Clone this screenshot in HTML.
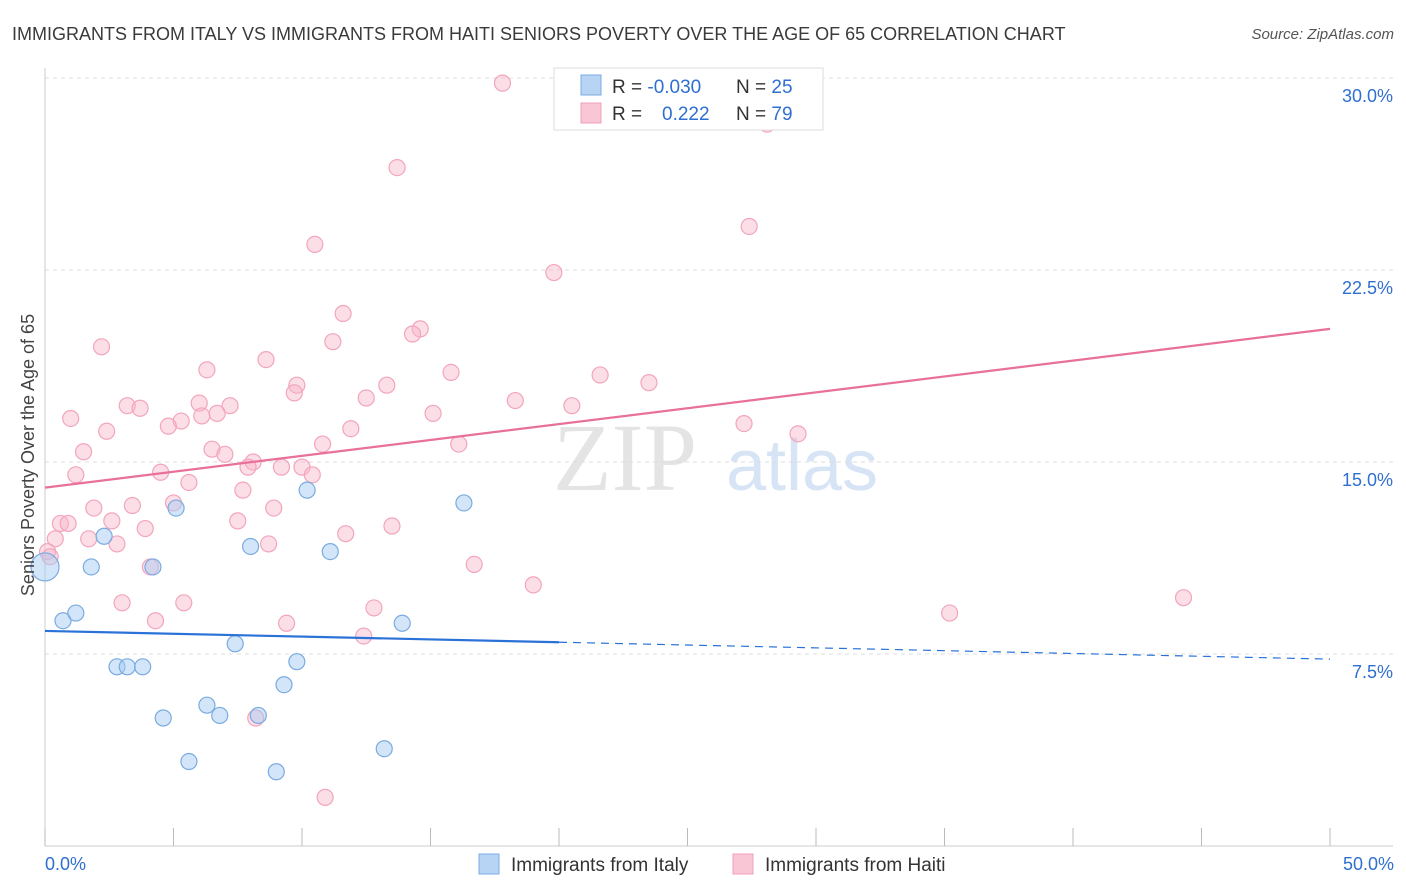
<!DOCTYPE html>
<html><head><meta charset="utf-8">
<style>
body{margin:0;background:#fff;font-family:"Liberation Sans",sans-serif;}
svg{display:block}
</style></head><body>
<svg id="chart" width="1406" height="892" viewBox="0 0 1406 892" xmlns="http://www.w3.org/2000/svg">
<text x="12" y="40" font-size="18" fill="#3a3a3a">IMMIGRANTS FROM ITALY VS IMMIGRANTS FROM HAITI SENIORS POVERTY OVER THE AGE OF 65 CORRELATION CHART</text>
<text x="1394" y="39" font-size="15" fill="#555" font-style="italic" text-anchor="end">Source: ZipAtlas.com</text>
<g>
<text x="625" y="490" font-size="96" fill="#e4e4e4" font-family="Liberation Serif,serif" text-anchor="middle">ZIP</text>
<text x="802" y="490" font-size="72" fill="#d6e4f5" text-anchor="middle">atlas</text>
</g>
<g id="grid"></g>
<g id="axes"></g>
<g id="marks"></g>
<text transform="translate(34,455) rotate(-90)" font-size="18" fill="#444" text-anchor="middle">Seniors Poverty Over the Age of 65</text>
<g>
<rect x="554" y="68" width="269" height="62" fill="#fff" stroke="#ddd"/>
<rect x="581" y="75" width="20" height="20" fill="#b8d4f4" stroke="#7aabe0"/>
<rect x="581" y="103" width="20" height="20" fill="#f9c6d5" stroke="#f0a0b8"/>
<text x="612" y="93" font-size="19" fill="#333">R = <tspan fill="#2f6fd0">-0.030</tspan><tspan x="736">N = </tspan><tspan fill="#2f6fd0">25</tspan></text>
<text x="612" y="120" font-size="19" fill="#333">R = <tspan x="662" fill="#2f6fd0">0.222</tspan><tspan x="736">N = </tspan><tspan fill="#2f6fd0">79</tspan></text>
</g>
<g>
<rect x="479" y="854" width="20" height="20" fill="#b8d4f4" stroke="#7aabe0"/>
<text x="511" y="871" font-size="19" fill="#333">Immigrants from Italy</text>
<rect x="733" y="854" width="20" height="20" fill="#f9c6d5" stroke="#f0a0b8"/>
<text x="765" y="871" font-size="19" fill="#333">Immigrants from Haiti</text>
</g>
<text x="45" y="870" font-size="18" fill="#2f6fd0">0.0%</text>
<text x="1394" y="870" font-size="18" fill="#2f6fd0" text-anchor="end">50.0%</text>
</svg>
<script>
const yTicks=[7.5,15,22.5,30];
const yTickLabels=["7.5%","15.0%","22.5%","30.0%"];
const xTicks=[0,5,10,15,20,25,30,35,40,45,50];
const haitiX=[17.8,28.1,13.7,27.4,10.5,19.8,11.6,14.6,14.3,11.2,2.2,8.6,6.3,15.8,21.6,9.8,13.3,9.7,23.5,12.5,18.3,20.5,3.2,3.7,6.0,7.2,6.7,6.1,5.3,1.0,15.1,4.8,2.4,11.9,27.2,29.3,10.8,16.1,6.5,1.5,7.0,8.1,7.9,9.2,10.0,10.4,4.5,1.2,5.6,7.7,5.0,3.4,1.9,8.9,0.6,0.9,2.6,7.5,13.5,3.9,11.7,1.7,0.4,2.8,8.7,0.1,0.2,16.7,4.1,19.0,3.0,5.4,12.8,35.2,44.3,4.3,9.4,12.4,8.2,10.9];
const haitiY=[29.8,28.2,26.5,24.2,23.5,22.4,20.8,20.2,20.0,19.7,19.5,19.0,18.6,18.5,18.4,18.0,18.0,17.7,18.1,17.5,17.4,17.2,17.2,17.1,17.3,17.2,16.9,16.8,16.6,16.7,16.9,16.4,16.2,16.3,16.5,16.1,15.7,15.7,15.5,15.4,15.3,15.0,14.8,14.8,14.8,14.5,14.6,14.5,14.2,13.9,13.4,13.3,13.2,13.2,12.6,12.6,12.7,12.7,12.5,12.4,12.2,12.0,12.0,11.8,11.8,11.5,11.3,11.0,10.9,10.2,9.5,9.5,9.3,9.1,9.7,8.8,8.7,8.2,5.0,1.9];
const italyX=[0,1.8,2.3,5.1,4.2,10.2,8.0,11.1,16.3,0.7,1.2,13.9,7.4,2.8,3.2,3.8,9.8,9.3,6.3,6.8,4.6,8.3,13.2,5.6,9.0];
const italyY=[10.9,10.9,12.1,13.2,10.9,13.9,11.7,11.5,13.4,8.8,9.1,8.7,7.9,7.0,7.0,7.0,7.2,6.3,5.5,5.1,5.0,5.1,3.8,3.3,2.9];
const italySize=[14,8,8,8,8,8,8,8,8,8,8,8,8,8,8,8,8,8,8,8,8,8,8,8,8];
const haitiTrend=[14.0,20.2];
const italyTrend=[8.4,7.3];
const italySolidEnd=20;

const NS="http://www.w3.org/2000/svg";
const X0=45,X1=1330,Y0=846,PXY=25.6;
const xs=v=>X0+(X1-X0)*v/50;
const ys=v=>Y0-v*PXY;
function mk(t,a,p){const e=document.createElementNS(NS,t);for(const k in a)e.setAttribute(k,a[k]);p.appendChild(e);return e;}
const grid=document.getElementById('grid'),axes=document.getElementById('axes'),marks=document.getElementById('marks');
yTicks.forEach((v,i)=>{
 const l=mk('line',{x1:X0,x2:1393,y1:ys(v),y2:ys(v),stroke:'#ddd','stroke-dasharray':'4,4'},grid);
 
 
 const t=mk('text',{x:1393,y:ys(v)+24,'font-size':18,fill:'#2f6fd0','text-anchor':'end'},grid);
 t.textContent=yTickLabels[i];
 
 
});
const ax=mk('line',{x1:X0,x2:1393,y1:Y0,y2:Y0,stroke:'#ccc'},axes);


const ay=mk('line',{x1:X0,x2:X0,y1:68,y2:Y0,stroke:'#ccc'},axes);


xTicks.forEach(v=>{
 const t=mk('line',{x1:xs(v),x2:xs(v),y1:Y0-18,y2:Y0,stroke:'#bbb'},axes);
 
 
});
haitiX.forEach((v,i)=>{
 const c=mk('circle',{cx:xs(v),cy:ys(haitiY[i]),r:8,fill:'rgba(248,182,202,0.45)',stroke:'#f2a5bd','stroke-width':1.2},marks);
 
 
});
italyX.forEach((v,i)=>{
 const c=mk('circle',{cx:xs(v),cy:ys(italyY[i]),r:italySize[i],fill:'rgba(168,204,242,0.5)',stroke:'#7aabe0','stroke-width':1.2},marks);
 
 
});
const hl=mk('line',{x1:xs(0),y1:ys(haitiTrend[0]),x2:xs(50),y2:ys(haitiTrend[1]),stroke:'#e8709a','stroke-width':2.2},marks);


const iy=x=>italyTrend[0]+(italyTrend[1]-italyTrend[0])*x/50;
const il=mk('line',{x1:xs(0),y1:ys(iy(0)),x2:xs(italySolidEnd),y2:ys(iy(italySolidEnd)),stroke:'#2a72d8','stroke-width':2.2},marks);


const id=mk('line',{x1:xs(italySolidEnd),y1:ys(iy(italySolidEnd)),x2:xs(50),y2:ys(iy(50)),stroke:'#2a72d8','stroke-width':1.2,'stroke-dasharray':'8,6'},marks);


</script>
</body></html>
